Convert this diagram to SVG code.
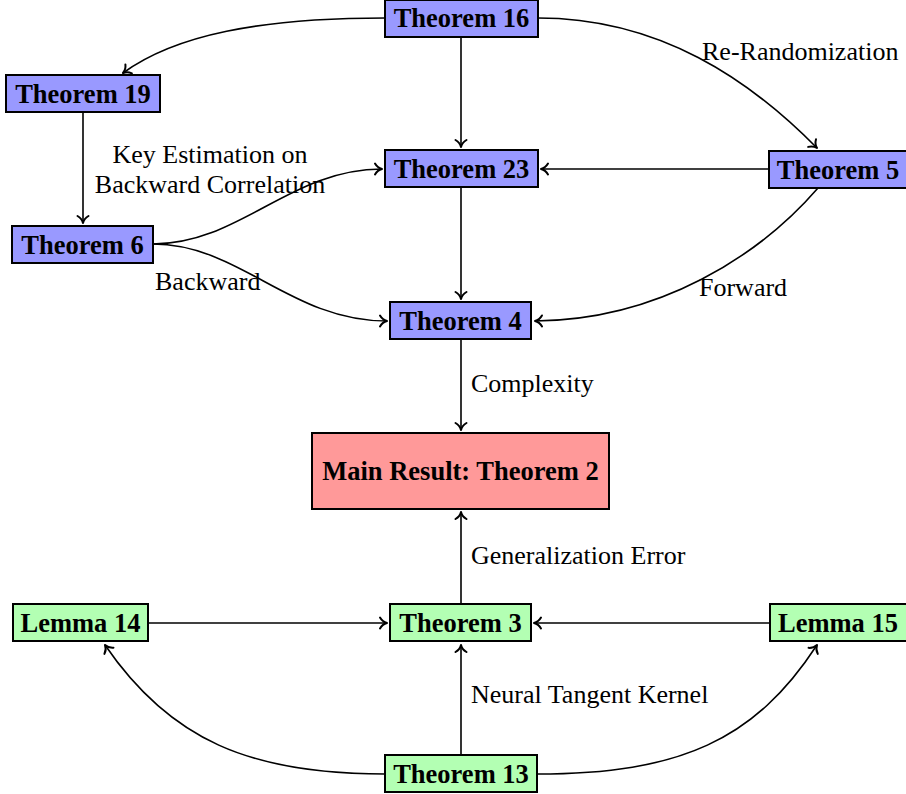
<svg xmlns="http://www.w3.org/2000/svg" width="906" height="794" viewBox="0 0 906 794">
<defs>
<style>
.blue{fill:#9999ff;stroke:#000;stroke-width:2}
.red{fill:#ff9999;stroke:#000;stroke-width:2}
.green{fill:#b3ffb3;stroke:#000;stroke-width:2}
.nt{font-family:"Liberation Serif","Times New Roman",serif;font-size:26.5px;font-weight:bold;text-anchor:middle;fill:#000}
.lb{font-family:"Liberation Serif","Times New Roman",serif;font-size:26px;fill:#000}
.e{fill:none;stroke:#000;stroke-width:1.6;marker-end:url(#arr)}
</style>
<marker id="arr" markerUnits="userSpaceOnUse" markerWidth="14" markerHeight="14" viewBox="-8 -7 10 14" refX="0" refY="0" orient="auto">
<path d="M-7,-5.5 C-5,-2 -2,-0.5 0,0 C-2,0.5 -5,2 -7,5.5" fill="none" stroke="#000" stroke-width="2" stroke-linecap="round" stroke-linejoin="round"/>
</marker>
</defs>
<rect width="906" height="794" fill="#fff"/>
<g id="connectors">
<path class="e" d="M385,18 C260,18 175,35 123,73"/>
<path class="e" d="M461,37 L461,147"/>
<path class="e" d="M538,18 C660,18 750,80 817,148"/>
<path class="e" d="M769,169 L541,169"/>
<path class="e" d="M818,188 C760,255 660,320 535,321"/>
<path class="e" d="M83,112 L83,223"/>
<path class="e" d="M153,244 C240,244 290,169 382,169"/>
<path class="e" d="M153,244 C240,244 290,321 387,321"/>
<path class="e" d="M461,187 L461,299"/>
<path class="e" d="M461,339 L461,430"/>
<path class="e" d="M461,604 L461,512"/>
<path class="e" d="M148,623 L387,623"/>
<path class="e" d="M770,623 L534,623"/>
<path class="e" d="M461,755 L461,645"/>
<path class="e" d="M385,774 C250,774 170,740 105,645"/>
<path class="e" d="M537,774 C680,774 755,740 817,645"/>
</g>
<g id="labels">
<text class="lb" x="702" y="60">Re-Randomization</text>
<text class="lb" x="210" y="163" text-anchor="middle">Key Estimation on</text>
<text class="lb" x="210" y="193" text-anchor="middle">Backward Correlation</text>
<text class="lb" x="155" y="290">Backward</text>
<text class="lb" x="699" y="296">Forward</text>
<text class="lb" x="471" y="392">Complexity</text>
<text class="lb" x="471" y="564">Generalization Error</text>
<text class="lb" x="471" y="703">Neural Tangent Kernel</text>
</g>
<g id="theorem16"><rect class="blue" x="385" y="0" width="153" height="37"/><text class="nt" x="461.5" y="27">Theorem 16</text></g>
<g id="theorem19"><rect class="blue" x="6" y="75" width="154" height="37"/><text class="nt" x="83" y="103">Theorem 19</text></g>
<g id="theorem23"><rect class="blue" x="385" y="150" width="153" height="37"/><text class="nt" x="461.5" y="178">Theorem 23</text></g>
<g id="theorem5"><rect class="blue" x="769" y="151" width="140" height="37"/><text class="nt" x="838" y="179">Theorem 5</text></g>
<g id="theorem6"><rect class="blue" x="12" y="226" width="141" height="37"/><text class="nt" x="82.5" y="254">Theorem 6</text></g>
<g id="theorem4"><rect class="blue" x="390" y="302" width="141" height="37"/><text class="nt" x="460.5" y="330">Theorem 4</text></g>
<g id="main"><rect class="red" x="312" y="433" width="297" height="76"/><text class="nt" x="460.5" y="480">Main Result: Theorem 2</text></g>
<g id="lemma14"><rect class="green" x="13" y="604" width="135" height="37"/><text class="nt" x="80.5" y="632">Lemma 14</text></g>
<g id="theorem3"><rect class="green" x="390" y="604" width="141" height="37"/><text class="nt" x="460.5" y="632">Theorem 3</text></g>
<g id="lemma15"><rect class="green" x="770" y="604" width="138" height="37"/><text class="nt" x="838" y="632">Lemma 15</text></g>
<g id="theorem13"><rect class="green" x="385" y="755" width="152" height="37"/><text class="nt" x="461" y="783">Theorem 13</text></g>
</svg>
